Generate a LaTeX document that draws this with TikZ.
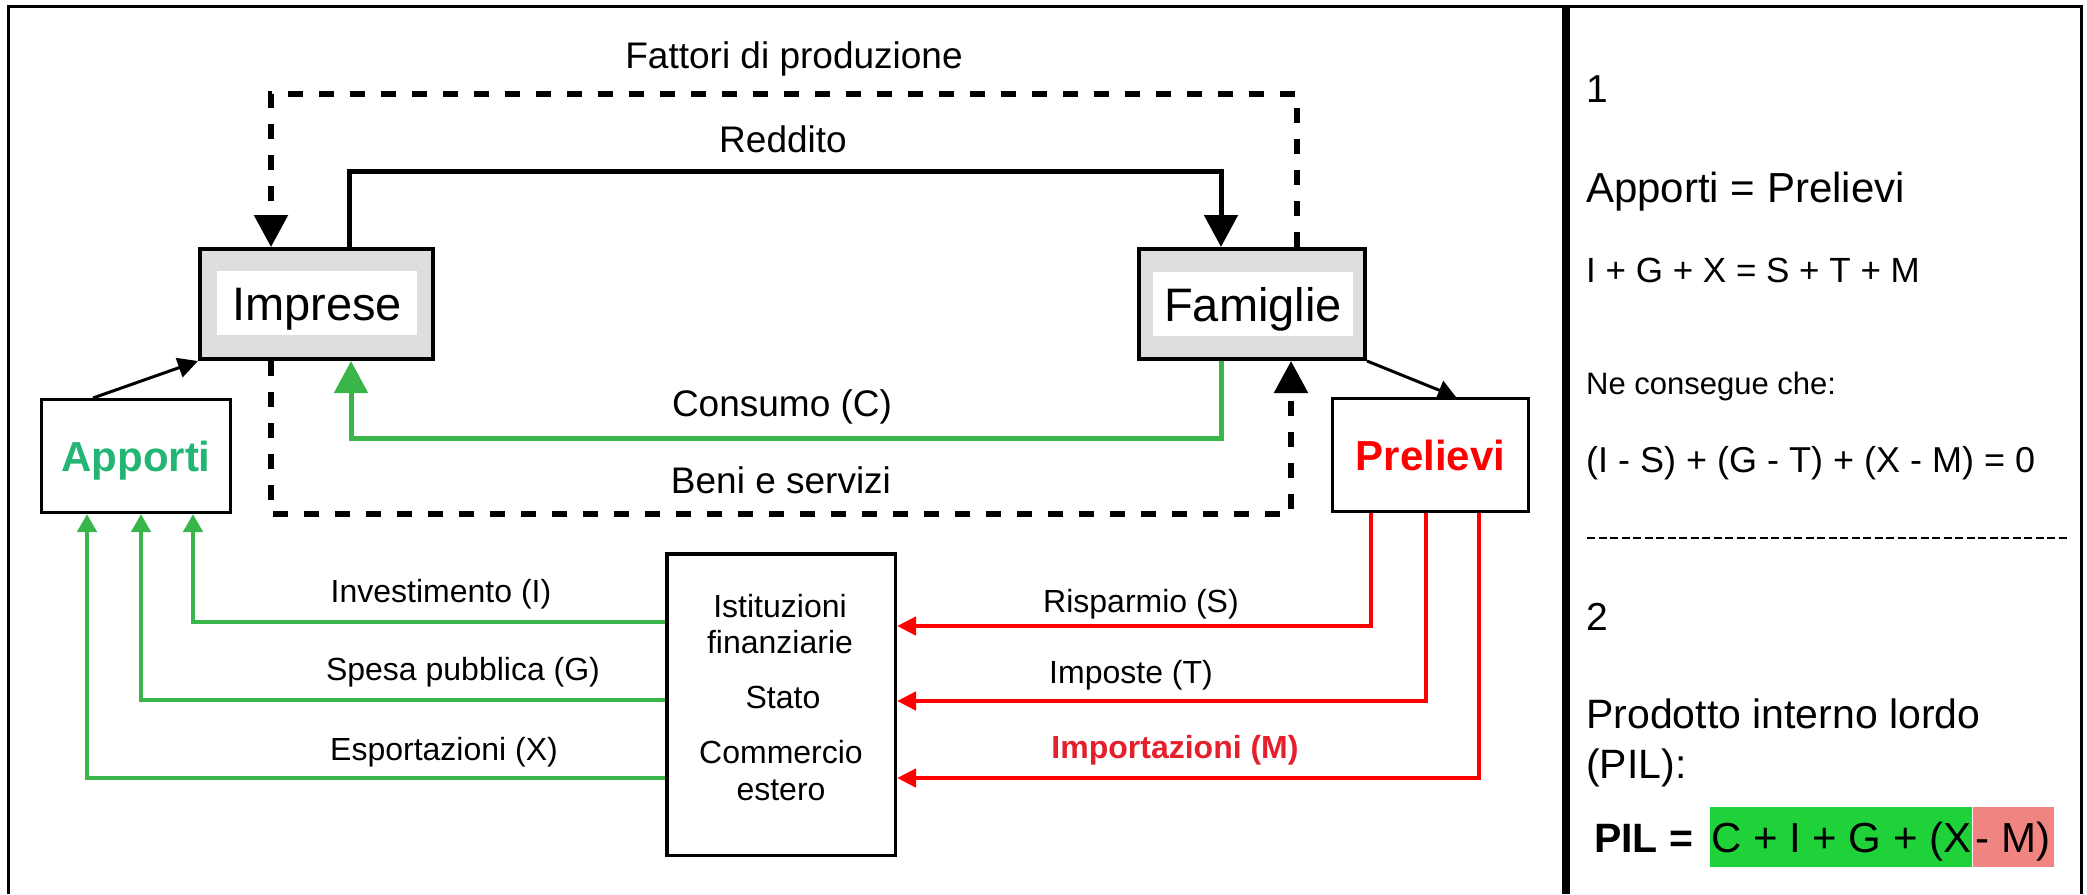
\documentclass[tikz,border=0pt]{standalone}
\usepackage{fontspec}
\setmainfont{Liberation Sans}
\usepackage{xcolor}
\usetikzlibrary{arrows.meta,positioning}
\definecolor{boxgray}{HTML}{DEDEDE}
\definecolor{flowgreen}{HTML}{39B54A}
\definecolor{apportigreen}{HTML}{22B573}
\definecolor{importred}{HTML}{E3202B}
\definecolor{pilgreen}{HTML}{1FD23A}
\definecolor{pilred}{HTML}{F08480}
\newcommand{\fsz}[1]{\fontsize{#1}{#1}\selectfont}

\begin{document}
\begin{tikzpicture}[x=1pt,y=-1pt,
    sector/.style={draw,line width=4pt,fill=boxgray,minimum width=#1,minimum height=110pt,inner sep=0pt},
    sectorname/.style={fill=white,minimum width=200pt,minimum height=64pt,inner sep=0pt,font=\fsz{47},text height=34pt,text depth=0pt},
    flowbox/.style={draw,line width=3pt,minimum height=113pt,inner sep=0pt,font=\bfseries\fsz{42},text height=30pt,text depth=0pt},
    lbl/.style={anchor=base,inner sep=0pt,font=\fsz{37}},
    flowlbl/.style={anchor=base,inner sep=0pt,font=\fsz{32}},
    side/.style={anchor=base west,inner sep=0pt},
    pilterm/.style={inner xsep=1pt,inner ysep=0pt,minimum height=60pt,font=\fsz{42},text height=30pt,text depth=0pt},
    bigtip/.style={-{Triangle[width=33pt,length=32pt]}},
    dashflow/.style={line width=5.5pt,dash pattern=on 15pt off 16pt,bigtip},
  ]
  \useasboundingbox (0,0) rectangle (2087,894);

  % frame
  \draw[line width=3pt] (8,894) -- (8,6) -- (2081,6) -- (2081,894);
  \draw[line width=7.5pt] (1566,6) -- (1566,894);

  % sectors
  \node[sector=233pt] (imp) at (316.5,304) {};
  \node[sectorname] (imptxt) at (317,303) {Imprese};
  \node[sector=226pt] (fam) at (1252,304) {};
  \node[sectorname] (famtxt) at (1253,304) {Famiglie};
  \node[flowbox,minimum width=189pt,text=apportigreen] (app) at (136,456) {Apporti};
  \node[flowbox,minimum width=196pt,text=red] (pre) at (1430.5,455) {Prelievi};
  \node[draw,line width=3.5pt,minimum width=228.5pt,minimum height=301.5pt] (ist) at (781,704.5) {};
  \node[flowlbl] (ist1) at (780,617) {Istituzioni};
  \node[flowlbl] (ist2) at (780,653) {finanziarie};
  \node[flowlbl] (ist3) at (783,708) {Stato};
  \node[flowlbl] (ist4) at (781,763) {Commercio};
  \node[flowlbl] (ist5) at (781,800) {estero};

  % labels
  \node[lbl] (fattori) at (794,68) {Fattori di produzione};
  \node[lbl] (reddito) at (783,152) {Reddito};
  \node[lbl] (consumo) at (782,416) {Consumo (C)};
  \node[lbl] (beni) at (781,493) {Beni e servizi};
  \node[flowlbl] (inv) at (441,602) {Investimento (I)};
  \node[flowlbl] (spesa) at (463,680) {Spesa pubblica (G)};
  \node[flowlbl] (esp) at (444,760) {Esportazioni (X)};
  \node[flowlbl] (risp) at (1141,612) {Risparmio (S)};
  \node[flowlbl] (impo) at (1131,683) {Imposte (T)};
  \node[flowlbl,font=\bfseries\fsz{32},text=importred] (impor) at (1175,758) {Importazioni (M)};

  % circuit
  \draw[line width=5pt,bigtip] ([xshift=32.5pt]imp.north) -- ++(0,-76) -| ([xshift=-31pt]fam.north);
  \draw[dashflow] ([xshift=45pt]fam.north) -- ++(0,-153) -| ([xshift=-45.5pt]imp.north);
  \draw[dashflow] ([xshift=-45.5pt]imp.south) -- ++(0,153) -| ([xshift=39pt]fam.south);
  \draw[flowgreen,line width=5pt,bigtip] ([xshift=-31pt]fam.south) -- ++(0,77) -| ([xshift=34.5pt]imp.south);
  \draw[line width=3pt,-{Triangle[width=20pt,length=20pt]}] ([xshift=-43pt]app.north) -- (imp.south west);
  \draw[line width=3pt,-{Triangle[width=20pt,length=18pt]}] (fam.south east) -- ([xshift=25.5pt]pre.north);

  % apporti
  \draw[flowgreen,line width=4.5pt,-{Triangle[width=19pt,length=18pt]}] ([yshift=82.5pt]ist.west) -| ([xshift=57pt]app.south);
  \draw[flowgreen,line width=4.5pt,-{Triangle[width=19pt,length=18pt]}] ([yshift=4.5pt]ist.west) -| ([xshift=5pt]app.south);
  \draw[flowgreen,line width=4.5pt,-{Triangle[width=19pt,length=18pt]}] ([yshift=-73.5pt]ist.west) -| ([xshift=-49pt]app.south);

  % prelievi
  \draw[red,line width=4.5pt,-{Triangle[width=18pt,length=19pt]}] ([xshift=-59.5pt]pre.south) |- ([yshift=78.5pt]ist.east);
  \draw[red,line width=4.5pt,-{Triangle[width=18pt,length=19pt]}] ([xshift=-4.5pt]pre.south) |- ([yshift=3.5pt]ist.east);
  \draw[red,line width=4.5pt,-{Triangle[width=18pt,length=19pt]}] ([xshift=48.5pt]pre.south) |- ([yshift=-73.5pt]ist.east);

  % right panel
  \node[side,font=\fsz{39}] (n1) at (1586,102) {1};
  \node[side,font=\fsz{42}] (eq1) at (1586,202) {Apporti = Prelievi};
  \node[side,font=\fsz{35}] (eq2) at (1586,282) {I + G + X = S + T + M};
  \node[side,font=\fsz{31}] (cons) at (1586,394) {Ne consegue che:};
  \node[side,font=\fsz{36}] (eq3) at (1586,472) {(I - S) + (G - T) + (X - M) = 0};
  \draw[line width=2.5pt,dash pattern=on 8pt off 3.5pt] (1587,538) -- (2068,538);
  \node[side,font=\fsz{39}] (n2) at (1586,630) {2};
  \node[side,font=\fsz{41}] (pil1) at (1586,728) {Prodotto interno lordo};
  \node[side,font=\fsz{41}] (pil2) at (1586,778) {(PIL):};
  \node[side,font=\bfseries\fsz{41}] (pil) at (1594,852) {PIL =};
  \node[pilterm,fill=pilgreen,anchor=west] (pilC) at (1710,837) {C + I + G + (X};
  \node[pilterm,fill=pilred,inner xsep=3pt,right=0pt of pilC] (pilM) {- M)};
\end{tikzpicture}
\end{document}
